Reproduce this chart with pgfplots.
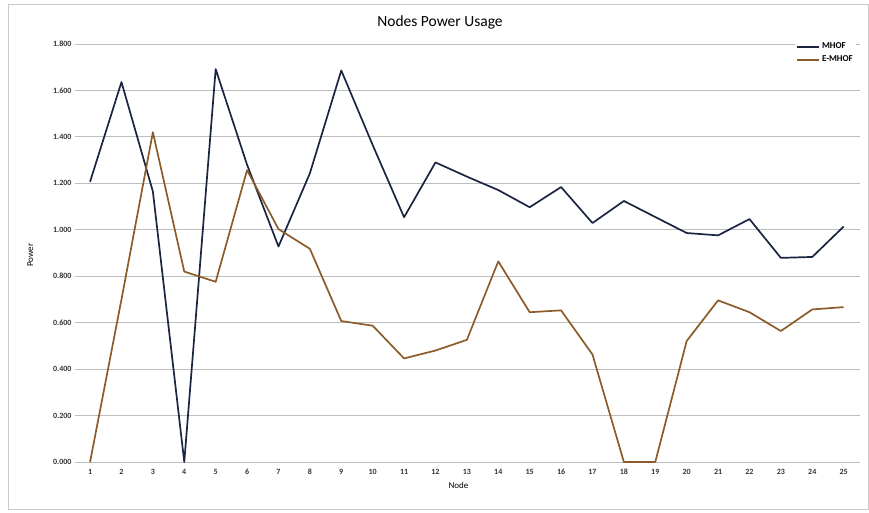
\documentclass[border=0pt]{standalone}
\usepackage{pgfplots}
\pgfplotsset{compat=1.18}
\usepackage{fontspec}
\setmainfont{Carlito}
\definecolor{mhof}{HTML}{1A2542}
\definecolor{emhof}{HTML}{8C5B2A}
\definecolor{gridc}{HTML}{BDBDBD}
\begin{document}
\begin{tikzpicture}[x=1pt,y=1pt]
\path (0,0) rectangle (869,512);
\draw[gridc!80, line width=1pt] (8,3) rectangle (868,507);
\node[font=\fontsize{15.5}{17}\selectfont] at (440,490) {Nodes Power Usage};
\begin{axis}[
  at={(75pt,50pt)}, anchor=south west,
  scale only axis, width=785pt, height=418pt,
  xmin=0.52, xmax=25.52, ymin=0, ymax=1.8,
  xtick={1,...,25}, ytick={0,0.2,...,1.8},
  ymajorgrids, grid style={gridc, line width=0.8pt},
  axis line style={draw=none}, major tick length=0pt,
  tick label style={font=\fontsize{8}{9}\selectfont\bfseries, text=black!80},
  /pgf/number format/assume math mode=true,
  yticklabel style={/pgf/number format/.cd, fixed, zerofill, precision=3, assume math mode=true},
  xticklabel style={yshift=-3pt, text height=6pt, text depth=0pt},
  ylabel={Power}, xlabel={Node},
  every axis y label/.style={at={(axis description cs:-0.057,0.495)}, rotate=90, anchor=center, font=\fontsize{9}{10}\selectfont},
  every axis x label/.style={at={(axis description cs:0.4885,-0.057)}, anchor=center, font=\fontsize{9}{10}\selectfont},
  legend style={at={(axis description cs:0.917,1.01)}, anchor=north west, draw=none, fill=white,
    font=\fontsize{9}{10}\selectfont\bfseries, row sep=1.5pt, inner sep=1pt},
  legend cell align=left,
  legend image code/.code={\draw[#1, line width=2pt] (0pt,0pt) -- (22pt,0pt);},
]
\addplot[mhof, line width=1.7pt, line join=round] coordinates {
(1,1.207) (2,1.636) (3,1.165) (4,0) (5,1.692) (6,1.28) (7,0.928) (8,1.243) (9,1.686) (10,1.365)
(11,1.054) (12,1.290) (13,1.229) (14,1.171) (15,1.097) (16,1.184) (17,1.029) (18,1.124) (19,1.055)
(20,0.986) (21,0.976) (22,1.046) (23,0.879) (24,0.883) (25,1.014)};
\addlegendentry{MHOF}
\addplot[emhof, line width=1.7pt, line join=round] coordinates {
(1,0) (2,0.70) (3,1.42) (4,0.82) (5,0.776) (6,1.257) (7,1.003) (8,0.918) (9,0.607) (10,0.587)
(11,0.446) (12,0.480) (13,0.526) (14,0.864) (15,0.645) (16,0.653) (17,0.463) (18,0) (19,0)
(20,0.521) (21,0.696) (22,0.645) (23,0.564) (24,0.657) (25,0.667)};
\addlegendentry{E-MHOF}
\end{axis}
\end{tikzpicture}
\end{document}
